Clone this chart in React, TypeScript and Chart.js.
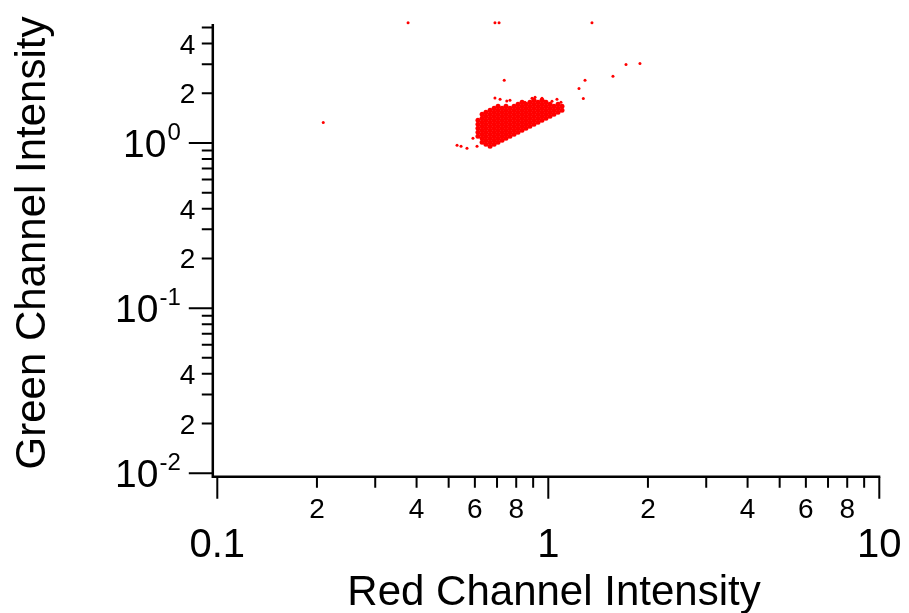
import React, { useEffect, useRef } from "react";
import { Chart, registerables } from "chart.js";

Chart.register(...registerables);

// ---------- axis definitions ----------
const X_MIN = 0.1;
const X_MAX = 10;
const Y_MIN = 0.01;
const Y_MAX = 5.25;

const xTitle = "Red Channel Intensity";
const yTitle = "Green Channel Intensity";

const xMajorTicks = [0.1, 1, 10];
const xMajorLabels = ["0.1", "1", "10"];
const xMinorTicks = [0.2, 0.3, 0.4, 0.5, 0.6, 0.7, 0.8, 0.9, 2, 3, 4, 5, 6, 7, 8, 9];
const xMinorLabelValues = [0.2, 0.4, 0.6, 0.8, 2, 4, 6, 8];
const xMinorLabels = ["2", "4", "6", "8", "2", "4", "6", "8"];

const yMajorTicks = [0.01, 0.1, 1];
const yMajorExponents = ["-2", "-1", "0"];
const yMinorTicks = [
  0.02, 0.03, 0.04, 0.05, 0.06, 0.07, 0.08, 0.09,
  0.2, 0.3, 0.4, 0.5, 0.6, 0.7, 0.8, 0.9,
  2, 3, 4, 5,
];
const yMinorLabelValues = [0.02, 0.04, 0.2, 0.4, 2, 4];
const yMinorLabels = ["2", "4", "2", "4", "2", "4"];

// ---------- data ----------
// dense cluster: red value of each column and the green values found in it
const clusterRed = [
  0.613, 0.631, 0.648, 0.667, 0.686, 0.705, 0.725, 0.745, 0.766, 0.788, 0.81,
  0.833, 0.856, 0.88, 0.905, 0.931, 0.957, 0.984, 1.012, 1.04, 1.07, 1.1,
];
const clusterGreen = [
  [1.372, 1.298, 1.227, 1.16, 1.098],
  [1.492, 1.411, 1.335, 1.262, 1.194, 1.129, 1.068, 1.01],
  [1.533, 1.45, 1.372, 1.298, 1.227, 1.16, 1.098, 1.038, 0.982],
  [1.577, 1.492, 1.411, 1.335, 1.262, 1.194, 1.129, 1.068, 1.01, 0.955],
  [1.622, 1.533, 1.45, 1.372, 1.298, 1.227, 1.16, 1.098, 1.038, 0.982],
  [1.667, 1.577, 1.492, 1.411, 1.335, 1.262, 1.194, 1.129, 1.068, 1.01],
  [1.622, 1.533, 1.45, 1.372, 1.298, 1.227, 1.16, 1.098, 1.038],
  [1.667, 1.577, 1.492, 1.411, 1.335, 1.262, 1.194, 1.129, 1.068],
  [1.622, 1.533, 1.45, 1.372, 1.298, 1.227, 1.16, 1.098],
  [1.667, 1.577, 1.492, 1.411, 1.335, 1.262, 1.194, 1.129],
  [1.714, 1.622, 1.533, 1.45, 1.372, 1.298, 1.227, 1.16],
  [1.763, 1.667, 1.577, 1.492, 1.411, 1.335, 1.262, 1.194],
  [1.714, 1.622, 1.533, 1.45, 1.372, 1.298, 1.227],
  [1.763, 1.667, 1.577, 1.492, 1.411, 1.335, 1.262],
  [1.813, 1.714, 1.622, 1.533, 1.45, 1.372, 1.298],
  [1.763, 1.667, 1.577, 1.492, 1.411, 1.335],
  [1.813, 1.714, 1.622, 1.533, 1.45, 1.372],
  [1.763, 1.667, 1.577, 1.492, 1.411],
  [1.714, 1.622, 1.533, 1.45],
  [1.667, 1.577, 1.492],
  [1.714, 1.622, 1.533],
  [1.667, 1.577],
];

// scattered points
const strayRed = [
  0.377, 0.69, 0.71, 1.355, 0.209, 0.736, 1.238, 1.291, 1.276, 1.568, 1.717, 1.892,
  0.53, 0.545, 0.568, 0.592, 0.609, 0.69, 0.715, 0.749, 0.766, 0.85, 0.893, 0.912,
  0.957, 0.977, 1.026, 1.062, 1.092,
];
const strayGreen = [
  5.35, 5.35, 5.35, 5.35, 1.328, 2.395, 2.14, 2.395, 1.856, 2.532, 2.99, 3.03,
  0.968, 0.955, 0.929, 1.068, 0.955, 1.872, 1.838, 1.795, 1.813, 1.763, 1.864, 1.89,
  1.864, 1.788, 1.788, 1.838, 1.763,
];

const FONT = '"Liberation Sans", Arial, sans-serif';

const axesPlugin = {
  id: "igorAxes",
  afterDraw(chart: any) {
    const ctx = chart.ctx as CanvasRenderingContext2D;
    const xs = chart.scales.x;
    const ys = chart.scales.y;
    const area = chart.chartArea;
    const yAxisX = area.left - 4.5;
    const xAxisY = area.bottom + 3.5;
    ctx.save();
    ctx.strokeStyle = "#000";
    ctx.fillStyle = "#000";
    ctx.lineCap = "butt";

    // axis lines
    ctx.lineWidth = 2.5;
    ctx.beginPath();
    ctx.moveTo(yAxisX, area.top);
    ctx.lineTo(yAxisX, xAxisY + 1.25);
    ctx.moveTo(yAxisX - 1.25, xAxisY);
    ctx.lineTo(area.right + 1, xAxisY);
    ctx.stroke();

    // x ticks
    ctx.lineWidth = 2;
    ctx.beginPath();
    xMajorTicks.forEach((v) => {
      const px = xs.getPixelForValue(v);
      ctx.moveTo(px, xAxisY);
      ctx.lineTo(px, xAxisY + 22);
    });
    xMinorTicks.forEach((v) => {
      const px = xs.getPixelForValue(v);
      ctx.moveTo(px, xAxisY);
      ctx.lineTo(px, xAxisY + 11);
    });
    // y ticks
    yMajorTicks.forEach((v) => {
      const py = ys.getPixelForValue(v);
      ctx.moveTo(yAxisX, py);
      ctx.lineTo(yAxisX - 24, py);
    });
    yMinorTicks.forEach((v) => {
      const py = ys.getPixelForValue(v);
      ctx.moveTo(yAxisX, py);
      ctx.lineTo(yAxisX - 11, py);
    });
    ctx.stroke();

    // x labels
    ctx.textBaseline = "alphabetic";
    ctx.textAlign = "center";
    ctx.font = `28px ${FONT}`;
    xMinorLabelValues.forEach((v, i) => {
      ctx.fillText(xMinorLabels[i], xs.getPixelForValue(v), xAxisY + 41);
    });
    ctx.font = `40px ${FONT}`;
    xMajorTicks.forEach((v, i) => {
      ctx.fillText(xMajorLabels[i], xs.getPixelForValue(v), xAxisY + 80);
    });

    // y labels
    ctx.textAlign = "right";
    ctx.font = `28px ${FONT}`;
    yMinorLabelValues.forEach((v, i) => {
      ctx.fillText(yMinorLabels[i], yAxisX - 17.5, ys.getPixelForValue(v) + 10);
    });
    const labelRight = yAxisX - 32;
    yMajorTicks.forEach((v, i) => {
      const py = ys.getPixelForValue(v);
      ctx.font = `24px ${FONT}`;
      const exp = yMajorExponents[i];
      const w = ctx.measureText(exp).width;
      ctx.fillText(exp, labelRight, py - 3);
      ctx.font = `39px ${FONT}`;
      ctx.fillText("10", labelRight - w - 1, py + 14);
    });

    // titles
    ctx.font = `42px ${FONT}`;
    ctx.textAlign = "center";
    ctx.fillText(xTitle, 554, 605);
    ctx.save();
    ctx.translate(45, 243);
    ctx.rotate(-Math.PI / 2);
    ctx.fillText(yTitle, 0, 0);
    ctx.restore();

    ctx.restore();
  },
};

export default function App() {
  const canvasRef = useRef<HTMLCanvasElement | null>(null);

  useEffect(() => {
    const canvas = canvasRef.current;
    if (!canvas) return;
    const clusterPoints = clusterRed.flatMap((x, i) =>
      clusterGreen[i].map((y) => ({ x, y }))
    );
    const strayPoints = strayRed.map((x, i) => ({ x, y: strayGreen[i] }));
    const chart = new Chart(canvas, {
      type: "scatter",
      data: {
        datasets: [
          {
            label: "cluster",
            data: clusterPoints,
            pointRadius: 2.5,
            pointBorderWidth: 0,
            pointBackgroundColor: "#ff0000",
            borderColor: "#ff0000",
            clip: false as any,
          },
          {
            label: "scattered",
            data: strayPoints,
            pointRadius: 1.5,
            pointBorderWidth: 0,
            pointBackgroundColor: "#ff0000",
            borderColor: "#ff0000",
            clip: false as any,
          },
        ],
      },
      options: {
        animation: false,
        responsive: false,
        devicePixelRatio: 1,
        layout: {
          padding: { left: 217.3, right: 29.7, top: 24, bottom: 139.7 },
        },
        scales: {
          x: { type: "logarithmic", min: X_MIN, max: X_MAX, display: false, bounds: "data" },
          y: { type: "logarithmic", min: Y_MIN, max: Y_MAX, display: false, bounds: "data" },
        },
        plugins: {
          legend: { display: false },
          tooltip: { enabled: false },
        },
        events: [],
      },
      plugins: [axesPlugin],
    });
    return () => chart.destroy();
  }, []);

  return (
    <div style={{ position: "absolute", left: 0, top: 0, width: 909, height: 613, background: "#fff" }}>
      <canvas ref={canvasRef} width={909} height={613} style={{ display: "block" }} />
    </div>
  );
}
